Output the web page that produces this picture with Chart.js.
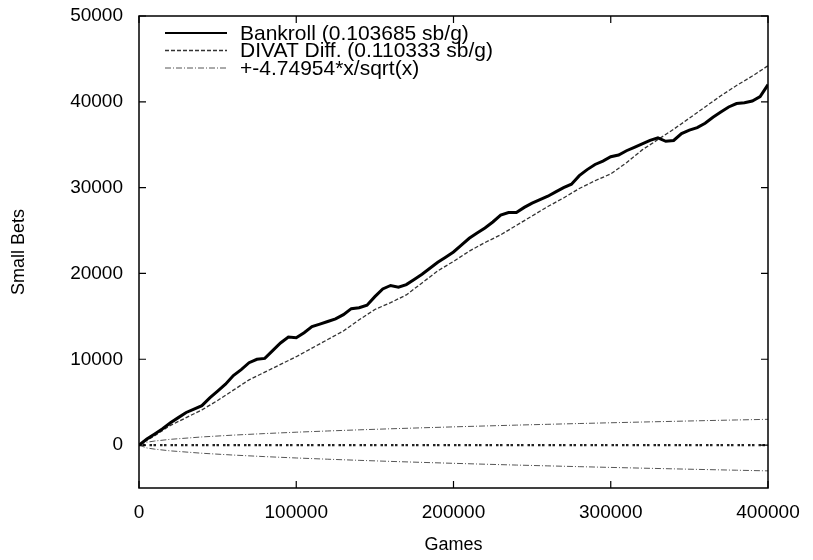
<!DOCTYPE html>
<html>
<head>
<meta charset="utf-8">
<script src="https://cdn.jsdelivr.net/npm/chart.js@4.4.1/dist/chart.umd.min.js"></script>
<style>
  html,body{margin:0;padding:0;background:#fff;}
  #wrap{width:813px;height:560px;}
</style>
</head>
<body>
<div id="wrap"><canvas id="chart" width="813" height="560"></canvas></div>
<script>
// --- values ---
// bankroll sampled every 5000 games, DIVAT every 10000 games
const bankrollStep = 5000;
const bankroll = [
  0,700,1300,1900,2600,3200,3800,4200,4600,5500,
  6300,7100,8100,8800,9600,10000,10100,11000,11900,12600,
  12500,13100,13800,14100,14400,14700,15200,15900,16000,16300,
  17300,18200,18600,18400,18700,19300,19900,20600,21300,21900,
  22500,23300,24100,24700,25300,26000,26800,27100,27100,27700,
  28200,28600,29000,29500,30000,30400,31400,32100,32700,33100,
  33600,33800,34300,34700,35100,35500,35800,35400,35500,36300,
  36700,37000,37500,38200,38800,39400,39800,39900,40100,40600,
  42000
];
const divatStep = 10000;
const divat = [
  0,1100,2300,3200,4100,5200,6400,7600,8500,9400,
  10300,11300,12300,13300,14600,15800,16600,17500,18900,20300,
  21400,22600,23600,24500,25600,26700,27800,28800,29900,30800,
  31600,32900,34400,35600,36800,38100,39400,40700,41900,43000,
  44200
];
// +- 4.74954*sqrt(x) envelope, values typed from the plot
const boundGames = [0,5000,10000,20000,40000,60000,80000,100000,120000,140000,160000,180000,200000,
  220000,240000,260000,280000,300000,320000,340000,360000,380000,400000];
const upperBound = [0,336,475,672,950,1163,1343,1502,1645,1777,1900,2015,2124,
  2228,2327,2422,2513,2601,2687,2769,2850,2928,3004];
const lowerBound = [0,-336,-475,-672,-950,-1163,-1343,-1502,-1645,-1777,-1900,-2015,-2124,
  -2228,-2327,-2422,-2513,-2601,-2687,-2769,-2850,-2928,-3004];
const zeroGames = [0,400000];
const zeroLine = [0,0];

const xTicks = [0,100000,200000,300000,400000];
const yTicks = [0,10000,20000,30000,40000,50000];

const legendLabels = ['Bankroll (0.103685 sb/g)','DIVAT Diff. (0.110333 sb/g)','+-4.74954*x/sqrt(x)'];

const FONT = "'Liberation Sans', Arial, Helvetica, sans-serif";

// gnuplot style frame with inward ticks
const framePlugin = {
  id:'frame',
  afterDatasetsDraw(chart){
    const {ctx, chartArea:a, scales} = chart;
    ctx.save();
    ctx.strokeStyle='#000'; ctx.lineWidth=1.5;
    ctx.strokeRect(a.left, a.top, a.right-a.left, a.bottom-a.top);
    ctx.lineWidth=1.2;
    ctx.beginPath();
    yTicks.forEach(v=>{
      const y=scales.y.getPixelForValue(v);
      ctx.moveTo(a.left,y); ctx.lineTo(a.left+7,y);
      ctx.moveTo(a.right,y); ctx.lineTo(a.right-7,y);
    });
    xTicks.forEach(v=>{
      const x=scales.x.getPixelForValue(v);
      ctx.moveTo(x,a.bottom); ctx.lineTo(x,a.bottom-7);
      ctx.moveTo(x,a.top); ctx.lineTo(x,a.top+7);
    });
    ctx.stroke();
    ctx.restore();
  }
};

// legend in the top-left of the plot, like gnuplot's key
const keyPlugin = {
  id:'key',
  afterDatasetsDraw(chart){
    const {ctx} = chart;
    ctx.save();
    ctx.font = `21px ${FONT}`;
    ctx.textBaseline='middle';
    ctx.fillStyle='#000';
    legendLabels.forEach((txt,i)=>{
      const ds = chart.data.datasets[i];
      const y = 33 + i*17.5;
      ctx.strokeStyle = ds.borderColor;
      ctx.lineWidth = Math.min(ds.borderWidth, 2);
      ctx.setLineDash(ds.borderDash || []);
      ctx.beginPath(); ctx.moveTo(165,y); ctx.lineTo(227,y); ctx.stroke();
      ctx.setLineDash([]);
      ctx.fillText(txt, 240, y+1);
    });
    ctx.restore();
  }
};

function init(){
  new Chart(document.getElementById('chart'),{
    type:'line',
    data:{
      datasets:[
        {label:legendLabels[0], data:bankroll.map((v,i)=>({x:i*bankrollStep,y:v})),
          borderColor:'#000', borderWidth:3, order:0},
        {label:legendLabels[1], data:divat.map((v,i)=>({x:i*divatStep,y:v})),
          borderColor:'#333', borderWidth:1.3, borderDash:[4,2], order:1},
        {label:legendLabels[2], data:boundGames.map((g,i)=>({x:g,y:upperBound[i]})),
          borderColor:'#555', borderWidth:1, borderDash:[6,2,1,2], order:2},
        {label:'lower', data:boundGames.map((g,i)=>({x:g,y:lowerBound[i]})),
          borderColor:'#555', borderWidth:1, borderDash:[6,2,1,2], order:2},
        {label:'zero', data:zeroGames.map((g,i)=>({x:g,y:zeroLine[i]})),
          borderColor:'#222', borderWidth:2.2, borderDash:[2.5,1.5,2.5,4], order:3}
      ]
    },
    options:{
      responsive:false,
      animation:false,
      elements:{point:{radius:0}, line:{tension:0}},
      layout:{padding:{left:0,right:45,top:16,bottom:4}},
      plugins:{legend:{display:false}, tooltip:{enabled:false}},
      scales:{
        x:{
          type:'linear', min:0, max:400000,
          afterBuildTicks:s=>{s.ticks=xTicks.map(v=>({value:v}));},
          afterFit:s=>{s.height=68; s.paddingLeft=0; s.paddingRight=0;},
          grid:{display:false, drawTicks:false},
          border:{display:false},
          ticks:{padding:13, color:'#000', font:{family:FONT,size:19}, maxRotation:0,
            callback:v=>String(v)},
          title:{display:true, text:'Games', color:'#000', font:{family:FONT,size:18}, padding:{top:0,bottom:0}}
        },
        y:{
          type:'linear', min:-5000, max:50000,
          afterBuildTicks:s=>{s.ticks=yTicks.map(v=>({value:v}));},
          afterFit:s=>{s.width=139; s.paddingTop=0; s.paddingBottom=0;},
          grid:{display:false, drawTicks:false},
          border:{display:false},
          ticks:{padding:16, color:'#000', font:{family:FONT,size:19}, callback:v=>String(v)},
          title:{display:true, text:'Small Bets', color:'#000', font:{family:FONT,size:18}, padding:{top:8,bottom:0}}
        }
      }
    },
    plugins:[framePlugin, keyPlugin]
  });
}

window.onload=init;
</script>
</body>
</html>
